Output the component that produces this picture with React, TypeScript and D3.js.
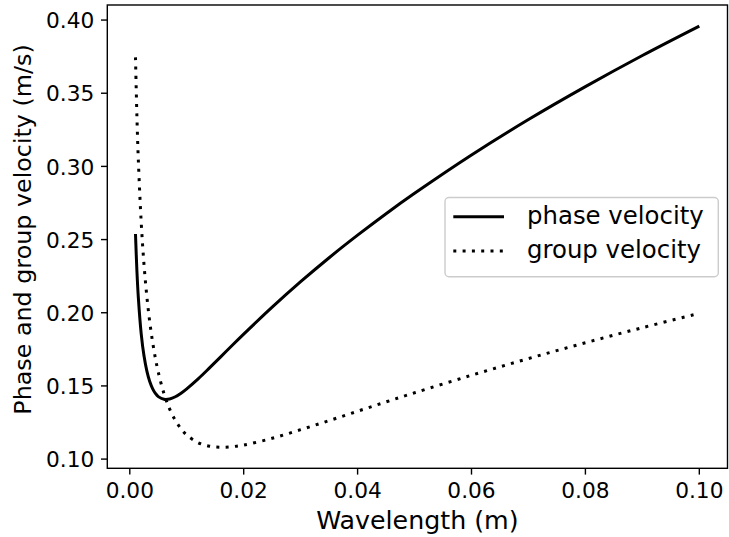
import React from "react";
import * as d3 from "d3";

const wavelength = [0.001, 0.00125, 0.0015, 0.002, 0.0025, 0.003, 0.0035, 0.004, 0.0045, 0.005, 0.006, 0.007, 0.008, 0.009, 0.01, 0.012, 0.014, 0.016, 0.018, 0.02, 0.025, 0.03, 0.035, 0.04, 0.045, 0.05, 0.06, 0.07, 0.08, 0.09, 0.1];
const phaseVelocity = [0.2538, 0.2285, 0.2103, 0.1858, 0.1704, 0.1601, 0.1530, 0.1482, 0.1449, 0.1427, 0.1409, 0.1411, 0.1426, 0.1450, 0.1480, 0.1548, 0.1623, 0.1700, 0.1778, 0.1854, 0.2038, 0.2212, 0.2376, 0.2530, 0.2677, 0.2816, 0.3078, 0.3320, 0.3545, 0.3758, 0.3959];
const groupVelocity = [0.3745, 0.3342, 0.3043, 0.2620, 0.2327, 0.2109, 0.1938, 0.1801, 0.1688, 0.1594, 0.1448, 0.1342, 0.1264, 0.1207, 0.1165, 0.1112, 0.1088, 0.1081, 0.1085, 0.1096, 0.1142, 0.1201, 0.1263, 0.1327, 0.1391, 0.1453, 0.1573, 0.1687, 0.1795, 0.1898, 0.1996];
const xTicks = [0, 0.02, 0.04, 0.06, 0.08, 0.1];
const yTicks = [0.1, 0.15, 0.2, 0.25, 0.3, 0.35, 0.4];
const seriesNames = ["phase velocity", "group velocity"];

const W = 729, H = 537;
const L = 107.3, R = 727.5, T = 5, B = 468.3;
const FONT = "DejaVu Sans, sans-serif";

export default function App() {
  const xMin = d3.min(wavelength)!, xMax = d3.max(wavelength)!;
  const xm = (xMax - xMin) * 0.05;
  const allY = [...phaseVelocity, ...groupVelocity];
  const yMin = d3.min(allY)!, yMax = d3.max(allY)!;
  const ym = (yMax - yMin) * 0.05;
  const x = d3.scaleLinear().domain([xMin - xm, xMax + xm]).range([L, R]);
  const y = d3.scaleLinear().domain([yMin - ym, yMax + ym]).range([B, T]);

  const phasePts = wavelength.map((w, i) => [x(w), y(phaseVelocity[i])] as [number, number]);
  const groupPts = wavelength.map((w, i) => [x(w), y(groupVelocity[i])] as [number, number]);
  const lp = d3.line().curve(d3.curveCatmullRom.alpha(0.5));

  const lw = 3;
  const dash = "3 6.3";
  const tickFs = 21.7;

  return (
    <svg width={W} height={H} style={{ position: "absolute", left: 0, top: 0, background: "#fff" }} fontFamily={FONT}>
      <rect x={0} y={0} width={W} height={H} fill="#fff" />
      <defs>
        <clipPath id="plot">
          <rect x={L} y={T} width={R - L} height={B - T} />
        </clipPath>
      </defs>
      <g clipPath="url(#plot)">
        <path d={lp(phasePts)!} fill="none" stroke="#000" strokeWidth={lw} />
        <path d={lp(groupPts)!} fill="none" stroke="#000" strokeWidth={lw} strokeDasharray={dash} />
      </g>
      <rect x={L} y={T} width={R - L} height={B - T} fill="none" stroke="#000" strokeWidth={1.4} />
      {xTicks.map((t) => (
        <g key={"x" + t}>
          <line x1={x(t)} x2={x(t)} y1={B} y2={B + 6.3} stroke="#000" strokeWidth={1.4} />
          <text x={x(t)} y={498.3} textAnchor="middle" fontSize={tickFs} fill="#000">{t.toFixed(2)}</text>
        </g>
      ))}
      {yTicks.map((t) => (
        <g key={"y" + t}>
          <line x1={L} x2={L - 6.3} y1={y(t)} y2={y(t)} stroke="#000" strokeWidth={1.4} />
          <text x={L - 13} y={y(t) + 8.2} textAnchor="end" fontSize={tickFs} fill="#000">{t.toFixed(2)}</text>
        </g>
      ))}
      <text x={(L + R) / 2} y={529} textAnchor="middle" fontSize={25.3} fill="#000">Wavelength (m)</text>
      <text transform={`translate(31,229.5) rotate(-90)`} textAnchor="middle" fontSize={23.8} fill="#000">Phase and group velocity (m/s)</text>
      <g>
        <rect x={445} y={197.5} width={273.3} height={79.2} rx={4} fill="#fff" fillOpacity={0.8} stroke="#ccc" strokeWidth={1.4} />
        <line x1={453.3} x2={504} y1={216.7} y2={216.7} stroke="#000" strokeWidth={lw} />
        <line x1={453.3} x2={504} y1={251} y2={251} stroke="#000" strokeWidth={lw} strokeDasharray={dash} />
        <text x={527} y={224.3} fontSize={24.4} fill="#000">{seriesNames[0]}</text>
        <text x={527} y={258.3} fontSize={24.4} fill="#000">{seriesNames[1]}</text>
      </g>
    </svg>
  );
}
